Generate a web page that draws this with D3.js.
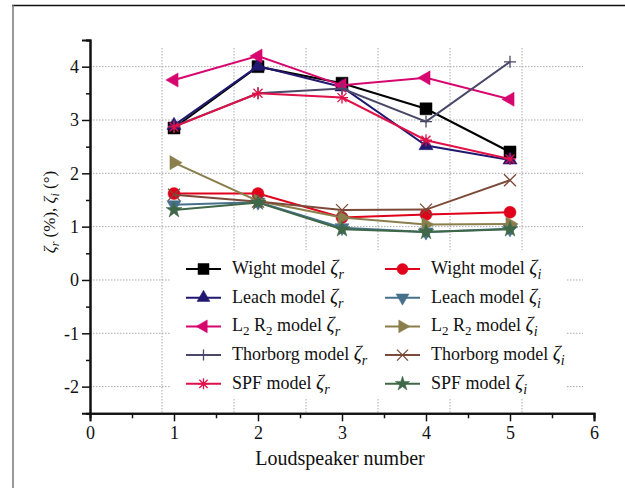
<!DOCTYPE html>
<html>
<head>
<meta charset="utf-8">
<script src="https://cdn.jsdelivr.net/npm/d3@7"></script>
<style>
  body { margin: 0; background: #fff; }
  svg text { font-family: "Times New Roman", Times, "Liberation Serif", "DejaVu Serif", serif; fill: #111; }
</style>
</head>
<body>
<div id="chart-area"></div>
<script>
// loudspeaker numbers
var speakers = [1, 2, 3, 4, 5];

// damping values
var wightR    = [2.85, 4.00, 3.69, 3.21, 2.40];
var leachR    = [2.90, 4.01, 3.62, 2.52, 2.25];
var l2r2R     = [3.75, 4.20, 3.65, 3.79, 3.39];
var thorborgR = [2.88, 3.50, 3.59, 2.97, 4.09];
var spfR      = [2.87, 3.50, 3.42, 2.62, 2.27];
var wightI    = [1.62, 1.62, 1.17, 1.23, 1.27];
var leachI    = [1.41, 1.46, 0.98, 0.90, 0.96];
var l2r2I     = [2.20, 1.48, 1.17, 1.04, 1.05];
var thorborgI = [1.60, 1.47, 1.31, 1.32, 1.87];
var spfI      = [1.31, 1.45, 0.95, 0.90, 0.95];

var xTicks = [0, 1, 2, 3, 4, 5, 6];
var yTicks = [-2, -1, 0, 1, 2, 3, 4];

var series = [
  {name: "Wight",    sub: "r", vals: wightR,    color: "#000000", sym: "square"},
  {name: "Leach",    sub: "r", vals: leachR,    color: "#20196f", sym: "triUp"},
  {name: "L2R2",     sub: "r", vals: l2r2R,     color: "#d6066e", sym: "triLeft"},
  {name: "Thorborg", sub: "r", vals: thorborgR, color: "#4a4868", sym: "plus"},
  {name: "SPF",      sub: "r", vals: spfR,      color: "#e01148", sym: "aster"},
  {name: "Wight",    sub: "i", vals: wightI,    color: "#e0001b", sym: "circle"},
  {name: "Leach",    sub: "i", vals: leachI,    color: "#47708c", sym: "triDown"},
  {name: "L2R2",     sub: "i", vals: l2r2I,     color: "#8a7f4c", sym: "triRight"},
  {name: "Thorborg", sub: "i", vals: thorborgI, color: "#7b4a38", sym: "cross"},
  {name: "SPF",      sub: "i", vals: spfI,      color: "#3e6848", sym: "star"}
];

var W = 625, H = 488;
var FONT = '"Times New Roman", Times, "Liberation Serif", "DejaVu Serif", serif';
var svg = d3.select("#chart-area").append("svg")
    .attr("width", W)
    .attr("height", H)
    .style("font-family", FONT);

// outer frame (top + left only, like the scanned figure)
svg.append("line").attr("x1", 12).attr("x2", W).attr("y1", 5.5).attr("y2", 5.5)
    .attr("stroke", "#111").attr("stroke-width", 1.5);
svg.append("line").attr("x1", 13).attr("x2", 13).attr("y1", 5).attr("y2", H)
    .attr("stroke", "#777").attr("stroke-width", 1.5);

var x = d3.scaleLinear().domain([0, 6]).range([90, 594]);
var y = d3.scaleLinear().domain([-2.5, 4.5]).range([413.3, 40]);

// grid - the vertical grid spacing in the original doesn't match the ticks
var grid = svg.append("g").attr("stroke", "#aaa").attr("stroke-width", 1)
    .attr("stroke-dasharray", "1.5,1.5");
d3.range(1, 7).forEach(function(k) {
  grid.append("line").attr("x1", x(k * 6 / 7)).attr("x2", x(k * 6 / 7))
      .attr("y1", 48).attr("y2", y(-2.5));
});
yTicks.forEach(function(t) {
  grid.append("line").attr("x1", x(0)).attr("x2", 583)
      .attr("y1", y(t)).attr("y2", y(t));
});

// axes: minor ticks in their own group so the major call doesn't wipe them
var fmt = function(d) { return String(d); };  // plain hyphen like the original
svg.append("g").attr("transform", "translate(0," + y(-2.5) + ")")
    .call(d3.axisBottom(x).tickValues(d3.range(0.5, 6, 1)).tickSize(5).tickFormat(""));
svg.append("g").attr("transform", "translate(0," + y(-2.5) + ")")
    .call(d3.axisBottom(x).tickValues(xTicks).tickSize(8).tickPadding(5).tickFormat(fmt));
svg.append("g").attr("transform", "translate(" + x(0) + ",0)")
    .call(d3.axisLeft(y).tickValues(d3.range(-2.5, 4.6, 1)).tickSize(4).tickFormat(""));
svg.append("g").attr("transform", "translate(" + x(0) + ",0)")
    .call(d3.axisLeft(y).tickValues(yTicks).tickSize(8).tickPadding(3).tickFormat(fmt));
svg.selectAll("g").attr("font-family", null);
svg.selectAll(".domain").attr("stroke", "#111").attr("stroke-width", 2);
svg.selectAll(".tick line").attr("stroke", "#111").attr("stroke-width", 1.5);
svg.selectAll(".tick text").style("font-size", "18px").attr("fill", "#111");

// axis titles
svg.append("text").attr("x", 340).attr("y", 465).attr("text-anchor", "middle")
    .style("font-size", "20px").text("Loudspeaker number");

var yt = svg.append("text").attr("transform", "translate(55,212) rotate(-90)")
    .attr("text-anchor", "middle").style("font-size", "17px");
yt.append("tspan").style("font-style", "italic").text("ζ");
yt.append("tspan").style("font-style", "italic").style("font-size", "12px").attr("dy", 4).text("r");
yt.append("tspan").attr("dy", -4).text(" (%), ");
yt.append("tspan").style("font-style", "italic").text("ζ");
yt.append("tspan").style("font-style", "italic").style("font-size", "12px").attr("dy", 4).text("i");
yt.append("tspan").attr("dy", -4).text(" (°)");

// marker shapes
function markerPath(sym, s) {
  var h = s / 2;
  if (sym === "plus") return "M" + (-h) + ",0H" + h + "M0," + (-h) + "V" + h;
  if (sym === "cross") return "M" + (-h) + "," + (-h) + "L" + h + "," + h + "M" + (-h) + "," + h + "L" + h + "," + (-h);
  if (sym === "aster") return "M" + (-h) + ",0H" + h + "M0," + (-h) + "V" + h +
      "M" + (-h * 0.75) + "," + (-h * 0.75) + "L" + (h * 0.75) + "," + (h * 0.75) +
      "M" + (-h * 0.75) + "," + (h * 0.75) + "L" + (h * 0.75) + "," + (-h * 0.75);
  if (sym === "square") return d3.symbol(d3.symbolSquare, s * s)();
  if (sym === "circle") return d3.symbol(d3.symbolCircle, Math.PI * h * h)();
  if (sym === "star") return d3.symbol(d3.symbolStar, s * s * 0.55)();
  return d3.symbol(d3.symbolTriangle, s * s * 0.6)();
}
var rotation = {triUp: 0, triDown: 180, triLeft: -90, triRight: 90};
var stroked = {plus: true, cross: true, aster: true};

function drawMarker(g, d, cx, cy, s) {
  g.append("path")
      .attr("d", markerPath(d.sym, s))
      .attr("transform", "translate(" + cx + "," + cy + ") rotate(" + (rotation[d.sym] || 0) + ")")
      .attr("fill", stroked[d.sym] ? "none" : d.color)
      .attr("stroke", d.color)
      .attr("stroke-width", stroked[d.sym] ? 1.3 : 0.5);
}

var line = d3.line()
    .x(function(d, i) { return x(speakers[i]); })
    .y(function(d) { return y(d); });

var plot = svg.append("g");
series.forEach(function(d) {
  var g = plot.append("g");
  g.append("path").attr("d", line(d.vals)).attr("fill", "none")
      .attr("stroke", d.color).attr("stroke-width", 2);
  d.vals.forEach(function(v, i) {
    drawMarker(g, d, x(speakers[i]), y(v), 12);
  });
});

// legend
var legend = svg.append("g");
legend.append("rect").attr("x", 170).attr("y", 250).attr("width", 396).attr("height", 148)
    .attr("fill", "#fff");
series.forEach(function(d, i) {
  var col = i < 5 ? 0 : 1, row = i % 5;
  var lx = col === 0 ? 186 : 385, ly = 269 + row * 28.7;
  var g = legend.append("g");
  g.append("line").attr("x1", lx).attr("x2", lx + 35).attr("y1", ly).attr("y2", ly)
      .attr("stroke", d.color).attr("stroke-width", 2);
  drawMarker(g, d, lx + 17.5, ly, 11);
  var t = g.append("text").attr("x", lx + 46).attr("y", ly + 5).style("font-size", "18px");
  if (d.name === "L2R2") {
    t.append("tspan").text("L");
    t.append("tspan").style("font-size", "13px").attr("dy", 4).text("2");
    t.append("tspan").attr("dy", -4).text(" R");
    t.append("tspan").style("font-size", "13px").attr("dy", 4).text("2");
    t.append("tspan").attr("dy", -4).text(" model ");
  } else {
    t.append("tspan").text(d.name + " model ");
  }
  t.append("tspan").style("font-style", "italic").style("font-size", "20px").text("ζ");
  t.append("tspan").style("font-style", "italic").style("font-size", "14px").attr("dy", 5).text(d.sub);
});
</script>
</body>
</html>
